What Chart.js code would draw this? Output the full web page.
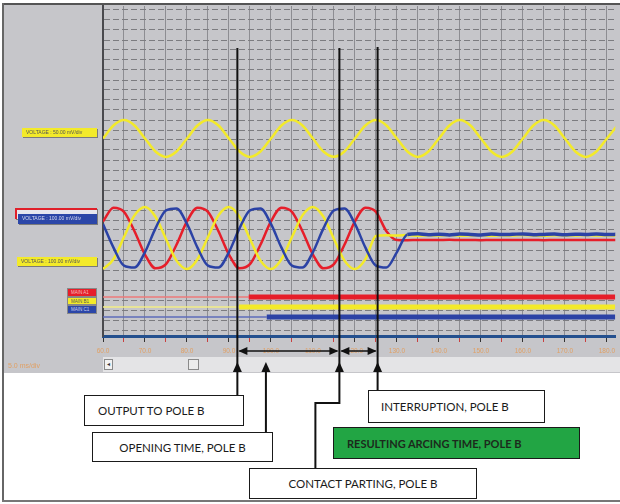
<!DOCTYPE html>
<html>
<head>
<meta charset="utf-8">
<title>Pole B arcing time</title>
<script src="https://cdn.jsdelivr.net/npm/chart.js@4.4.1/dist/chart.umd.min.js"></script>
<style>
  body { margin: 0; background: #fff; }
  #wrap { position: relative; width: 620px; height: 504px; overflow: hidden; font-family: "Liberation Sans", Arial, sans-serif; }
  #wrap div { position: absolute; box-sizing: border-box; }
  canvas { position: absolute; left: 0; top: 0; z-index: 1; }
  .tag { z-index: 2; height: 9px; font-size: 5px; line-height: 9px; padding-left: 4px; white-space: nowrap; overflow: hidden; box-shadow: 1px 1px 0 #7a7a7a; color: #555; }
  .main { z-index: 2; left: 67px; width: 30px; height: 8.5px; font-size: 4.5px; line-height: 8.5px; padding-left: 3px; white-space: nowrap; border: 1px solid #888; }
  .note { z-index: 2; background: #fff; border: 1.5px solid #1a1a1a; font-family: Lato, "Open Sans", sans-serif; font-size: 11.5px; color: #1a1a1a; display: flex; align-items: center; white-space: nowrap; }
</style>
</head>
<body>
<div id="wrap">
  <div style="left:3px;top:5px;width:617px;height:368px;background:#c6c6ca;"></div>
  <div style="left:103px;top:357px;width:517px;height:15px;background:#e4e4e6;"></div>
  <div style="left:104px;top:359px;width:9px;height:11px;background:#f2f2f2;border:1px solid #8a8a8a;font-size:6px;line-height:9px;text-align:center;color:#333;">&#9666;</div>
  <div style="left:188px;top:359px;width:11px;height:11px;background:#ececec;border:1px solid #8a8a8a;"></div>
  <div style="left:3px;top:3px;width:617px;height:2px;background:#555;"></div>
  <div style="left:2px;top:3px;width:2px;height:499px;background:#666;"></div>
  <div style="left:2px;top:500px;width:618px;height:2px;background:#777;"></div>
  <div style="left:8px;top:362px;font-size:7px;color:#e0a064;z-index:2;">5.0 ms/div</div>

  <canvas id="scopeChart" width="620" height="504"></canvas>

  <div class="tag" style="left:22px;top:128px;width:75px;background:#f3ea2a;">VOLTAGE : 50.00 mV/div</div>
  <div class="tag" style="left:15px;top:208px;width:82px;height:11px;background:#e6e6ee;border-top:2px solid #e0202a;border-left:2px solid #e0202a;"></div>
  <div class="tag" style="left:18px;top:214px;width:79px;height:10px;background:#2b46a8;color:#d8dcf0;">VOLTAGE : 100.00 mV/div</div>
  <div class="tag" style="left:17px;top:257px;width:80px;background:#f3ea2a;">VOLTAGE : 100.00 mV/div</div>
  <div class="main" style="top:288px;background:#e61e2a;color:#f2c0c0;">MAIN A1</div>
  <div class="main" style="top:296.5px;background:#f3ea2a;color:#555;">MAIN B1</div>
  <div class="main" style="top:305px;background:#2b46a8;color:#c8d0f0;">MAIN C1</div>

  <div class="note" style="left:84px;top:395px;width:160px;height:31px;padding-left:13px;">OUTPUT TO POLE B</div>
  <div class="note" style="left:92px;top:432px;width:181px;height:30px;justify-content:center;">OPENING TIME, POLE B</div>
  <div class="note" style="left:249px;top:468px;width:228px;height:31px;justify-content:center;">CONTACT PARTING, POLE B</div>
  <div class="note" style="left:368px;top:390px;width:177px;height:33px;padding-left:12px;">INTERRUPTION, POLE B</div>
  <div class="note" style="left:333px;top:427px;width:247px;height:32px;padding-left:13px;background:#22a544;font-weight:700;font-size:11px;color:#1c2a1c;">RESULTING ARCING TIME, POLE B</div>
</div>

<script>
// time axis, ms
const timeTicks = [60, 70, 80, 90, 100, 110, 120, 130, 140, 150, 160, 170, 180];
const waveTimes = [60, 62.5, 65, 67.5, 70, 72.5, 75, 77.5, 80, 82.5, 85, 87.5, 90, 92.5, 95, 97.5,
  100, 102.5, 105, 107.5, 110, 112.5, 115, 117.5, 120, 122.5, 125, 127.5, 130, 132.5, 135, 137.5,
  140, 142.5, 145, 147.5, 150, 152.5, 155, 157.5, 160, 162.5, 165, 167.5, 170, 172.5, 175, 177.5,
  180, 182.5];

// top channel, mV (50 mV/div)
const refVoltage = [0, 65, 92, 65, 0, -65, -92, -65, 0, 65, 93, 65, 0, -65, -92, -65,
  0, 65, 92, 65, 0, -65, -91, -65, 0, 65, 92, 65, 0, -65, -92, -65,
  0, 65, 92, 65, 0, -65, -92, -65, 0, 65, 92, 65, 0, -65, -92, -65, 0, 65];

// three phase channel, mV (100 mV/div)
const phaseA = [166, 303, 262, 68, -166, -303, -262, -68, 166, 303, 262, 68, -166, -303, -262, -68,
  166, 303, 262, 68, -166, -303, -262, -68, 166, 303, 262, 68,
  -20, -22, -19, -21, -20, -18, -21, -20, -22, -19, -20, -21, -20, -19, -22, -20, -21, -19, -20, -21, -20, -20];
const phaseB = [-310, -212, 10, 226, 310, 212, -10, -226, -310, -212, 10, 226, 310, 212, -10, -226,
  -310, -212, 10, 226, 310, 212, -10, -226, -310, -212,
  20, 28, 24, 30, 22, 27, 25, 31, 23, 26, 29, 22, 27, 24, 30, 25, 23, 28, 26, 24, 29, 25, 27, 24];
const phaseC = [141, -96, -276, -295, -141, 96, 276, 295, 141, -96, -276, -295, -141, 96, 276, 295,
  141, -96, -276, -295, -141, 96, 276, 295, 141, -96, -276, -295, -141,
  35, 42, 33, 38, 31, 40, 36, 30, 39, 34, 37, 41, 32, 36, 39, 33, 38, 35, 40, 34, 37];

// main contacts: time the trace turns on, ms
const mainNames = ["MAIN A1", "MAIN B1", "MAIN C1"];
const mainOnTimes = [94.7, 92.4, 99.0];

// marked events, ms
const eventNames = ["OUTPUT TO POLE B", "OPENING TIME, POLE B", "CONTACT PARTING, POLE B", "INTERRUPTION, POLE B"];
const eventTimes = [92.0, 98.8, 116.3, 125.4];

const YELLOW = "#f3ea2a";
const RED = "#e61e2a";
const BLUE = "#2b42a5";

function toPoints(values, offset, mvPerDiv) {
  return values.map((v, i) => ({ x: waveTimes[i], y: offset + v / mvPerDiv }));
}

const datasets = [
  { label: "VOLTAGE 50", data: toPoints(refVoltage, 19.75, 50), borderColor: YELLOW, borderWidth: 2.5, order: 3 },
  { label: "Phase C", data: toPoints(phaseC, 9.8, 100), borderColor: BLUE, borderWidth: 2.5, order: 0,
    segment: { borderWidth: ctx => ctx.p0.parsed.x > 131 ? 3.5 : 2.5 } },
  { label: "Phase B", data: toPoints(phaseB, 9.8, 100), borderColor: YELLOW, borderWidth: 2.5, order: 1 },
  { label: "Phase A", data: toPoints(phaseA, 9.8, 100), borderColor: RED, borderWidth: 2.5, order: 2 }
];

const mainRows = [3.9, 2.9, 1.9];
const mainColors = [RED, YELLOW, BLUE];
const mainThin = ["#ec7a7a", "#f2ec86", "#5e6cba"];
mainNames.forEach((name, i) => {
  const y = mainRows[i];
  datasets.push({ label: name + " off", data: [{ x: 60, y }, { x: mainOnTimes[i], y }],
    borderColor: mainThin[i], borderWidth: 1.5, tension: 0, order: 5 });
  datasets.push({ label: name, data: [{ x: mainOnTimes[i], y }, { x: 182, y }],
    borderColor: mainColors[i], borderWidth: 5, tension: 0, borderCapStyle: "butt", order: 4 });
});

function upArrow(ctx, x, tip) {
  ctx.beginPath();
  ctx.moveTo(x, tip);
  ctx.lineTo(x - 4.5, tip + 10);
  ctx.lineTo(x + 4.5, tip + 10);
  ctx.closePath();
  ctx.fill();
}

function doubleArrow(ctx, x1, x2, y) {
  ctx.lineWidth = 1.5;
  ctx.beginPath();
  ctx.moveTo(x1 + 2, y);
  ctx.lineTo(x2 - 2, y);
  ctx.stroke();
  ctx.beginPath();
  ctx.moveTo(x1 + 1, y);
  ctx.lineTo(x1 + 10, y - 4);
  ctx.lineTo(x1 + 10, y + 4);
  ctx.closePath();
  ctx.fill();
  ctx.beginPath();
  ctx.moveTo(x2 - 1, y);
  ctx.lineTo(x2 - 10, y - 4);
  ctx.lineTo(x2 - 10, y + 4);
  ctx.closePath();
  ctx.fill();
}

// black marker lines and arrows down to the notes
const eventLines = {
  id: "eventLines",
  afterDraw(chart) {
    const ctx = chart.ctx;
    const px = eventTimes.map(t => chart.scales.x.getPixelForValue(t));
    ctx.save();
    ctx.strokeStyle = "#111";
    ctx.fillStyle = "#111";
    ctx.lineWidth = 2;
    ctx.beginPath();
    ctx.moveTo(px[0], 48); ctx.lineTo(px[0], 395);
    ctx.moveTo(px[1], 366); ctx.lineTo(px[1], 432);
    ctx.moveTo(px[2], 48); ctx.lineTo(px[2], 403);
    ctx.lineTo(px[2] - 24, 403); ctx.lineTo(px[2] - 24, 468);
    ctx.moveTo(px[3], 47); ctx.lineTo(px[3], 390);
    ctx.stroke();
    px.forEach(x => upArrow(ctx, x, 362));
    doubleArrow(ctx, px[0], px[2], 351);
    doubleArrow(ctx, px[2], px[3], 351);
    ctx.restore();
  }
};

new Chart(document.getElementById("scopeChart"), {
  type: "line",
  data: { datasets },
  options: {
    responsive: false,
    devicePixelRatio: 1,
    animation: false,
    layout: { padding: { top: 6, right: 0, bottom: 0, left: 0 } },
    elements: {
      point: { radius: 0 },
      line: { cubicInterpolationMode: "monotone", fill: false }
    },
    plugins: { legend: { display: false }, tooltip: { enabled: false } },
    scales: {
      x: {
        type: "linear",
        min: 60,
        max: 182,
        afterFit: scale => { scale.height = 168; },
        ticks: {
          stepSize: 5,
          includeBounds: false,
          autoSkip: false,
          maxRotation: 0,
          padding: 5,
          color: "#e0a064",
          font: { family: "Liberation Sans", size: 6.5 },
          callback: v => timeTicks.includes(v) ? v.toFixed(1) : ""
        },
        grid: {
          color: "rgba(95,95,100,0.55)",
          tickLength: 6,
          tickColor: ctx => ctx.tick && timeTicks.includes(ctx.tick.value) ? "#333" : "#c84040"
        },
        border: { color: "#24508e", width: 3 }
      },
      y: {
        min: 0,
        max: 33,
        afterFit: scale => { scale.width = 103; },
        afterBuildTicks: scale => {
          const ticks = [];
          for (let v = 0.6; v < 33; v += 1) ticks.push({ value: v });
          scale.ticks = ticks;
        },
        ticks: { display: false },
        grid: { color: "#7c7c80", drawTicks: false },
        border: { color: "#4a4a4e", width: 2, dash: [6, 3] }
      }
    }
  },
  plugins: [eventLines]
});
</script>
</body>
</html>
